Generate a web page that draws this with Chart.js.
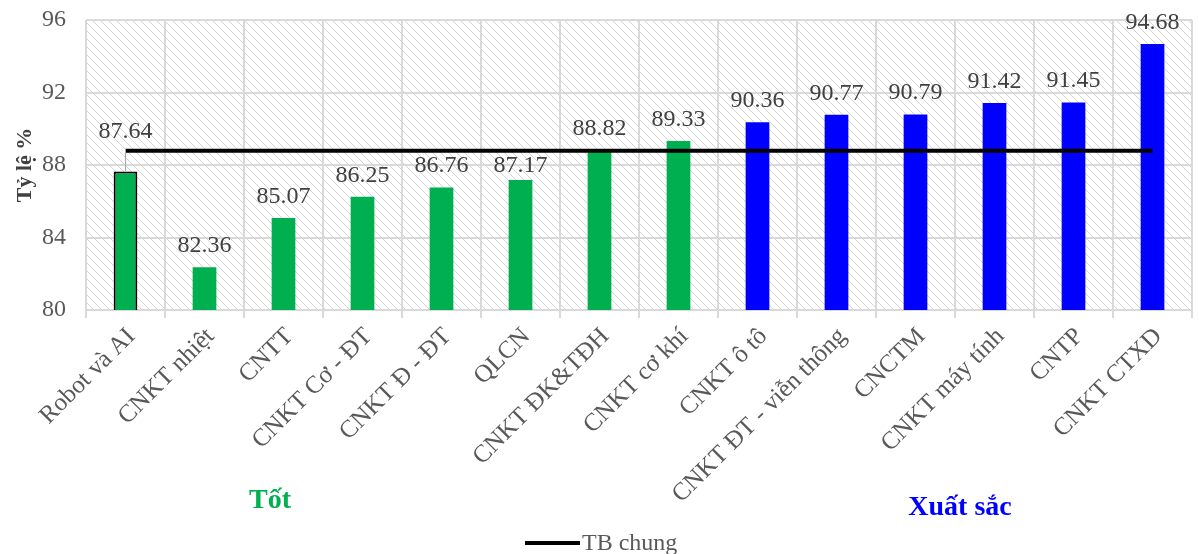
<!DOCTYPE html>
<html>
<head>
<meta charset="utf-8">
<script src="https://cdn.jsdelivr.net/npm/chart.js@4/dist/chart.umd.min.js"></script>
<style>
  html, body { margin: 0; padding: 0; background: #fff; }
  #wrap { width: 1199px; height: 554px; position: relative; }
</style>
</head>
<body>
<div id="wrap"><canvas id="myChart"></canvas></div>
<script>
// categories (ngành) and their rates
const categories = ['Robot và AI', 'CNKT nhiệt', 'CNTT', 'CNKT Cơ - ĐT', 'CNKT Đ - ĐT', 'QLCN',
  'CNKT ĐK&TĐH', 'CNKT cơ khí', 'CNKT ô tô', 'CNKT ĐT - viễn thông', 'CNCTM',
  'CNKT máy tính', 'CNTP', 'CNKT CTXD'];
const values = [87.64, 82.36, 85.07, 86.25, 86.76, 87.17, 88.82, 89.33, 90.36, 90.77, 90.79, 91.42, 91.45, 94.68];
// "Tốt" or "Xuất sắc" group of each bar
const groups = ['tot', 'tot', 'tot', 'tot', 'tot', 'tot', 'tot', 'tot',
  'xs', 'xs', 'xs', 'xs', 'xs', 'xs'];
// average line (TB chung)
const tbChung = [88.78, 88.78, 88.78, 88.78, 88.78, 88.78, 88.78, 88.78, 88.78, 88.78, 88.78, 88.78, 88.78, 88.78];
const yTicks = [80, 84, 88, 92, 96];

const green = '#00B050';
const blue = '#0000FF';
const serif = '"Liberation Serif", "Times New Roman", serif';

// hatched background pattern for the plot area (light dashed diagonals)
function makeHatch() {
  const c = document.createElement('canvas');
  c.width = 8; c.height = 8;
  const g = c.getContext('2d');
  g.fillStyle = '#fff';
  g.fillRect(0, 0, 8, 8);
  g.fillStyle = '#d4d4d4';
  for (let i = 0; i < 8; i += 2) {
    g.fillRect(i, i, 1, 1);
    g.fillRect(i + 1, i + 1, 1, 1);
  }
  return g.createPattern(c, 'repeat');
}

const hatchPlugin = {
  id: 'hatch',
  beforeDraw(chart) {
    const a = chart.chartArea;
    const ctx = chart.ctx;
    ctx.save();
    ctx.fillStyle = makeHatch();
    ctx.fillRect(a.left, a.top, a.right - a.left, a.bottom - a.top);
    ctx.restore();
  }
};

// value labels on top of bars + leader line for first bar + group texts + legend
const labelPlugin = {
  id: 'labels',
  afterDraw(chart) {
    const ctx = chart.ctx;
    const meta = chart.getDatasetMeta(1);
    const y = chart.scales.y;
    const ly = y.getPixelForValue(tbChung[0]);
    ctx.save();
    ctx.font = '24px ' + serif;
    ctx.fillStyle = '#404040';
    ctx.textAlign = 'center';
    ctx.textBaseline = 'alphabetic';
    meta.data.forEach((bar, i) => {
      if (i === 0) {
        // label moved above the average line, with a leader line
        ctx.strokeStyle = '#a6a6a6';
        ctx.lineWidth = 1;
        ctx.beginPath();
        ctx.moveTo(bar.x, bar.y);
        ctx.lineTo(bar.x, ly - 2);
        ctx.stroke();
        ctx.fillText(values[i].toFixed(2), bar.x, ly - 13);
      } else {
        let base = bar.y - 15;
        // keep the label clear of the average line when the bar sits just under it
        if (bar.y > ly && base - 17 < ly + 3) base = bar.y - 8;
        ctx.fillText(values[i].toFixed(2), bar.x, base);
      }
    });

    // group names
    ctx.font = 'bold 28px ' + serif;
    ctx.fillStyle = green;
    ctx.fillText('Tốt', 270, 508);
    ctx.fillStyle = blue;
    ctx.fillText('Xuất sắc', 960, 515);

    // legend: TB chung
    ctx.strokeStyle = '#000';
    ctx.lineWidth = 4;
    ctx.beginPath();
    ctx.moveTo(525, 543);
    ctx.lineTo(580, 543);
    ctx.stroke();
    ctx.font = '24px ' + serif;
    ctx.fillStyle = '#595959';
    ctx.textAlign = 'left';
    ctx.textBaseline = 'middle';
    ctx.fillText(chart.data.datasets[0].label, 582, 544);
    ctx.restore();
  }
};

const myChart = new Chart(document.getElementById('myChart'), {
  data: {
    labels: categories,
    datasets: [
      {
        type: 'line',
        label: 'TB chung',
        data: tbChung,
        borderColor: '#000',
        backgroundColor: '#000',
        borderWidth: 4,
        pointRadius: 0,
        order: 0
      },
      {
        type: 'bar',
        label: 'Tỷ lệ',
        data: values,
        backgroundColor: groups.map(g => g === 'tot' ? green : blue),
        borderColor: values.map((v, i) => i === 0 ? '#000' : 'rgba(0,0,0,0)'),
        borderWidth: values.map((v, i) => i === 0 ? 2 : 0),
        categoryPercentage: 1,
        barPercentage: 0.3,
        order: 1
      }
    ]
  },
  options: {
    responsive: true,
    maintainAspectRatio: false,
    animation: false,
    layout: { padding: { left: 12, right: 7, top: 0, bottom: 0 } },
    plugins: {
      tooltip: { enabled: false },
      legend: { display: false }
    },
    scales: {
      x: {
        grid: { color: '#d9d9d9', lineWidth: 2, tickLength: 8, offset: true },
        border: { color: '#d9d9d9', width: 2 },
        ticks: {
          color: '#595959',
          minRotation: 45,
          maxRotation: 45,
          autoSkip: false,
          padding: 4,
          labelOffset: 6,
          font: { family: serif, size: 25 }
        },
        afterFit(scale) { scale.height = 244; }
      },
      y: {
        min: 80,
        max: 96,
        afterBuildTicks(scale) { scale.ticks = yTicks.map(v => ({ value: v })); },
        grid: { color: '#d9d9d9', lineWidth: 2, drawTicks: false },
        border: { display: false },
        ticks: {
          color: '#595959',
          padding: 20,
          font: { family: serif, size: 24 }
        },
        title: {
          display: true,
          text: 'Tỷ lệ %',
          color: '#404040',
          padding: 0,
          font: { family: serif, size: 22, weight: 'bold' }
        },
        afterFit(scale) {
          scale.width = 74;
          // tick padding should not push the plot area down
          scale.paddingTop = 20;
          scale.paddingBottom = 0;
        }
      }
    }
  },
  plugins: [hatchPlugin, labelPlugin]
});
</script>
</body>
</html>
